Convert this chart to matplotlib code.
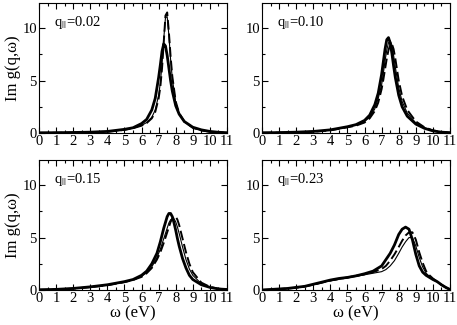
import matplotlib
matplotlib.use("Agg")
import matplotlib.pyplot as plt
from matplotlib.ticker import MultipleLocator

plt.rcParams["font.family"] = ["Liberation Serif", "DejaVu Serif"]
plt.rcParams["mathtext.fontset"] = "stix"

# ---- data ----
q_labels = ["0.02", "0.10", "0.15", "0.23"]

w1 = [0, 1, 2, 3, 4, 4.5, 5, 5.5, 6, 6.3, 6.6, 6.8, 7.0, 7.1, 7.2, 7.3, 7.4,
      7.5, 7.6, 7.7, 7.8, 8.0, 8.2, 8.5, 9, 9.5, 10, 10.5, 11]
thick1 = [0.02, 0.03, 0.05, 0.08, 0.15, 0.25, 0.35, 0.5, 0.9, 1.3, 2.2, 3.3,
          5.3, 6.5, 7.8, 8.5, 8.3, 7.4, 6.2, 5.0, 4.0, 2.6, 1.8, 1.1, 0.55,
          0.3, 0.15, 0.07, 0.03]
dash1 = [0.01, 0.02, 0.03, 0.06, 0.12, 0.2, 0.3, 0.45, 0.7, 0.95, 1.4, 2.0,
         3.3, 4.4, 6.2, 8.7, 11.2, 11.5, 9.6, 7.3, 5.4, 3.0, 1.9, 1.1, 0.5,
         0.25, 0.12, 0.06, 0.02]
thin1 = [0.01, 0.02, 0.03, 0.06, 0.12, 0.2, 0.3, 0.45, 0.72, 1.0, 1.5, 2.2,
         3.6, 4.8, 6.6, 9.0, 11.0, 11.1, 9.3, 7.0, 5.2, 2.9, 1.85, 1.05, 0.5,
         0.25, 0.12, 0.06, 0.02]

w2 = [0, 1, 2, 3, 4, 4.5, 5, 5.5, 6, 6.3, 6.6, 6.8, 7.0, 7.1, 7.2, 7.3, 7.4,
      7.5, 7.6, 7.7, 7.8, 8.0, 8.2, 8.5, 9, 9.5, 10, 10.5, 11]
thick2 = [0.02, 0.04, 0.08, 0.15, 0.3, 0.45, 0.6, 0.8, 1.2, 1.7, 2.7, 3.8,
          5.6, 6.8, 8.0, 8.9, 9.1, 8.6, 7.6, 6.4, 5.3, 3.6, 2.5, 1.6, 0.85,
          0.45, 0.2, 0.08, 0.03]
dash2 = [0.02, 0.03, 0.06, 0.12, 0.25, 0.4, 0.55, 0.7, 1.0, 1.4, 2.1, 2.9,
         4.2, 5.1, 6.1, 7.1, 7.9, 8.4, 8.5, 8.0, 7.1, 5.0, 3.5, 2.2, 1.1,
         0.55, 0.25, 0.1, 0.03]
thin2 = [0.02, 0.03, 0.07, 0.13, 0.27, 0.42, 0.57, 0.75, 1.1, 1.5, 2.3, 3.3,
         4.6, 5.7, 6.9, 7.9, 8.6, 8.8, 8.4, 7.4, 6.3, 4.3, 3.0, 1.9, 0.95,
         0.5, 0.22, 0.09, 0.03]

w3 = [0, 1, 2, 3, 4, 5, 5.5, 6, 6.3, 6.6, 6.9, 7.1, 7.3, 7.5, 7.6, 7.7, 7.8,
      7.9, 8.0, 8.1, 8.2, 8.4, 8.6, 8.8, 9.0, 9.5, 10, 10.5, 11]
thick3 = [0.02, 0.06, 0.15, 0.3, 0.5, 0.8, 1.0, 1.4, 1.8, 2.5, 3.5, 4.6, 5.9,
          7.0, 7.3, 7.3, 7.0, 6.4, 5.7, 4.9, 4.2, 3.0, 2.1, 1.4, 1.0, 0.5,
          0.25, 0.1, 0.05]
dash3 = [0.02, 0.05, 0.13, 0.27, 0.45, 0.75, 0.95, 1.25, 1.6, 2.1, 2.9, 3.6,
         4.5, 5.5, 6.0, 6.5, 6.8, 7.0, 7.0, 6.7, 6.2, 4.9, 3.6, 2.5, 1.7,
         0.7, 0.3, 0.12, 0.05]
thin3 = [0.02, 0.05, 0.13, 0.27, 0.45, 0.75, 0.95, 1.3, 1.65, 2.2, 3.1, 3.9,
         4.9, 5.9, 6.4, 6.7, 6.8, 6.8, 6.5, 6.0, 5.4, 4.1, 2.9, 2.0, 1.4,
         0.6, 0.27, 0.11, 0.05]

w4 = [0, 0.5, 1, 1.5, 2, 2.5, 3, 3.5, 4, 4.5, 5, 5.5, 6, 6.5, 7, 7.25, 7.5,
      7.75, 8, 8.2, 8.4, 8.6, 8.8, 9, 9.2, 9.4, 9.6, 9.8, 10, 10.25, 10.5,
      10.75, 11]
thick4 = [0.0, 0.05, 0.1, 0.15, 0.25, 0.35, 0.55, 0.75, 0.95, 1.1, 1.2, 1.35,
          1.55, 1.8, 2.3, 2.9, 3.5, 4.3, 5.3, 5.8, 6.0, 5.8, 4.8, 3.4, 2.3,
          1.7, 1.4, 1.2, 1.0, 0.8, 0.5, 0.25, 0.05]
dash4 = [0.0, 0.04, 0.09, 0.14, 0.22, 0.33, 0.5, 0.7, 0.9, 1.05, 1.2, 1.35,
         1.5, 1.7, 2.0, 2.3, 2.8, 3.4, 4.1, 4.7, 5.2, 5.5, 5.5, 4.8, 3.6,
         2.6, 1.8, 1.4, 1.1, 0.8, 0.5, 0.25, 0.05]
thin4 = [0.0, 0.04, 0.09, 0.14, 0.22, 0.33, 0.5, 0.7, 0.88, 1.02, 1.15, 1.3,
         1.45, 1.6, 1.75, 1.95, 2.3, 2.8, 3.5, 4.1, 4.6, 5.0, 5.0, 4.2, 3.1,
         2.2, 1.6, 1.3, 1.0, 0.75, 0.45, 0.22, 0.04]

panels = [
    (w1, thick1, dash1, thin1),
    (w2, thick2, dash2, thin2),
    (w3, thick3, dash3, thin3),
    (w4, thick4, dash4, thin4),
]

fig = plt.figure(figsize=(4.57, 3.25), dpi=100)
W, H = 457, 325
lefts = [39, 262]
tops = [3, 160]
pw, ph = 188, 130

for i, (w, thick, dash, thin) in enumerate(panels):
    row, col = divmod(i, 2)
    l = lefts[col]
    t = tops[row]
    ax = fig.add_axes((l / W, 1 - (t + ph) / H, pw / W, ph / H))
    ax.plot(w, thin, color="black", lw=0.8)
    ax.plot(w, dash, color="black", lw=1.4, dashes=(5, 2))
    ax.plot(w, thick, color="black", lw=2.0)

    ax.set_xlim(0, 11)
    ax.set_ylim(0, 12.4)
    ax.xaxis.set_major_locator(MultipleLocator(1))
    ax.xaxis.set_minor_locator(MultipleLocator(0.5))
    ax.yaxis.set_major_locator(MultipleLocator(5))
    ax.yaxis.set_minor_locator(MultipleLocator(2.5))
    ax.tick_params(which="both", direction="in", top=True, right=True,
                   labelsize=10.5, width=0.8)
    ax.tick_params(which="major", length=4, pad=1.5)
    ax.tick_params(which="minor", length=2)
    for s in ax.spines.values():
        s.set_linewidth(0.8)

    ax.text(0.9, 10.5, r"q$_{||}$=" + q_labels[i], fontsize=10.5,
            va="center", ha="left")
    if col == 0:
        ax.set_ylabel("Im g(q,ω)", fontsize=12, labelpad=1)
    if row == 1:
        ax.set_xlabel("ω (eV)", fontsize=12, labelpad=0)

fig.savefig("out.png", dpi=100)
